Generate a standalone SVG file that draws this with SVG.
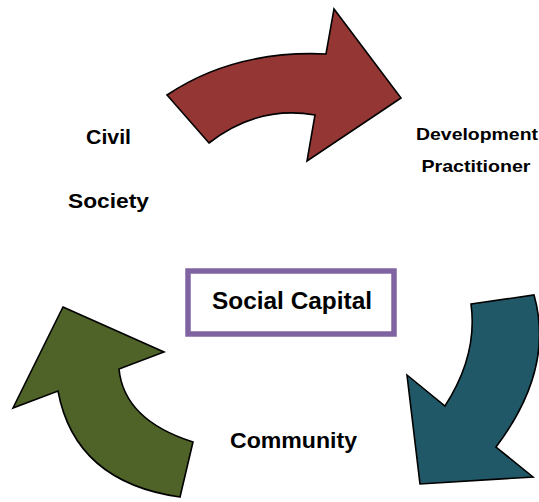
<svg xmlns="http://www.w3.org/2000/svg" width="539" height="502" viewBox="0 0 539 502">
<style>
.arrow{stroke:#000;stroke-width:1.6;stroke-linejoin:miter}
.lbl{font-family:"Liberation Sans",Arial,sans-serif;font-weight:bold;fill:#000;text-anchor:middle}
</style>
<rect width="539" height="502" fill="#fff"/>
<g id="connectors">
<path id="arrow-red" class="arrow" fill="#943634" d="M167,95 Q234,50 326,54 L334,9 L401,98 L307,161 L315,115 Q258,105 209,143 Z"/>
<path id="arrow-teal" class="arrow" fill="#215867" d="M471,304 L534,295 Q555,369 496,447 L533,477 L420,484 L407,375 L445,406 Q478,355 471,304 Z"/>
<path id="arrow-green" class="arrow" fill="#4F6228" d="M63,307 L164,352 L119,369 Q124,420 193,442 L180,497 Q75,482 58,391 L13,408 Z"/>
</g>
<g id="node-social-capital">
<rect x="188" y="271" width="206" height="63" fill="#fff" stroke="#8064A2" stroke-width="5.5"/>
<text class="lbl" x="292" y="309" font-size="24" textLength="160" lengthAdjust="spacingAndGlyphs">Social Capital</text>
</g>
<g id="node-civil-society">
<text class="lbl" x="108.5" y="144" font-size="21" textLength="45" lengthAdjust="spacingAndGlyphs">Civil</text>
<text class="lbl" x="108.5" y="208" font-size="21" textLength="81" lengthAdjust="spacingAndGlyphs">Society</text>
</g>
<g id="node-development-practitioner">
<text class="lbl" x="477" y="140" font-size="17" textLength="122" lengthAdjust="spacingAndGlyphs">Development</text>
<text class="lbl" x="476" y="172" font-size="17" textLength="109" lengthAdjust="spacingAndGlyphs">Practitioner</text>
</g>
<g id="node-community">
<text class="lbl" x="293.5" y="448" font-size="22" textLength="127" lengthAdjust="spacingAndGlyphs">Community</text>
</g>
</svg>
